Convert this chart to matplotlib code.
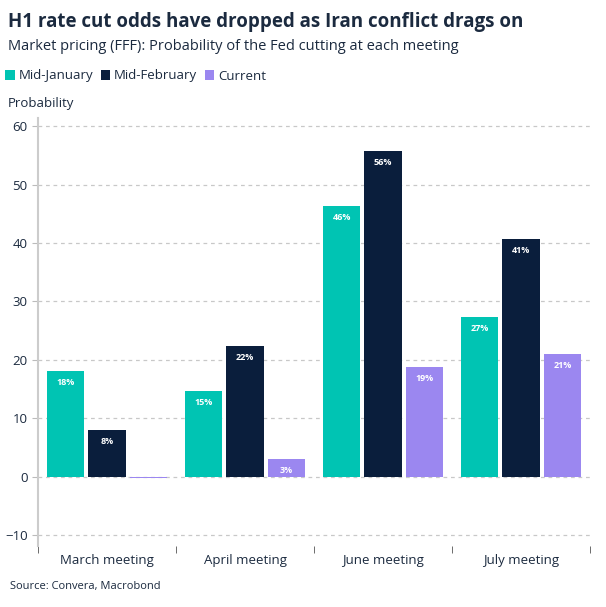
import matplotlib
matplotlib.use("Agg")
import matplotlib.pyplot as plt
import numpy as np

plt.rcParams['font.family'] = ['Open Sans', 'DejaVu Sans']

categories = ["March meeting", "April meeting", "June meeting", "July meeting"]
series_names = ["Mid-January", "Mid-February", "Current"]
mid_jan = [18.0, 14.6, 46.3, 27.3]
mid_feb = [8.0, 22.4, 55.8, 40.6]
current = [-0.3, 3.0, 18.8, 21.0]
colors = ["#00C4B3", "#0A1E3C", "#9B87F0"]
txt = "#1B2A3F"

fig = plt.figure(figsize=(6.06, 6.07), dpi=100)
ax = fig.add_axes([38/606, 61/607, 552/606, 428/607])

x = np.arange(len(categories))
w = 0.27
off = 0.3
for i, (vals, c) in enumerate(zip([mid_jan, mid_feb, current], colors)):
    xs = x + (i - 1) * off
    ax.bar(xs, vals, width=w, color=c, zorder=3, label=series_names[i])
    for xi, v in zip(xs, vals):
        if v > 1:
            ax.text(xi, v - 1.2, f"{v:.0f}%", ha="center", va="top", color="white",
                    fontsize=6.5, fontweight="bold", zorder=4)

ax.set_xlim(-0.5, 3.5)
ax.set_ylim(-11.9, 61.4)
ax.set_yticks(range(-10, 61, 10))
ax.yaxis.grid(True, linestyle=(0, (3, 3)), color="#C8C8C8", linewidth=0.9, zorder=0)
ax.set_xticks(x)
ax.set_xticklabels(categories, color=txt, fontsize=9.5)
ax.tick_params(axis="x", length=0, pad=6)
ax.set_xticks(np.arange(-0.5, 3.6, 1), minor=True)
ax.tick_params(axis="x", which="minor", length=5, color="#555555", direction="out")
ax.tick_params(axis="y", labelsize=9.5, labelcolor=txt, length=4, color="#BBBBBB")
for s in ["top", "right", "bottom"]:
    ax.spines[s].set_visible(False)
ax.spines["left"].set_color("#CCCCCC")
ax.spines["left"].set_linewidth(1.5)

fig.text(8/606, 1 - 22/607, "H1 rate cut odds have dropped as Iran conflict drags on",
         fontsize=13.5, fontweight="bold", color=txt, va="center")
fig.text(8/606, 1 - 46/607, "Market pricing (FFF): Probability of the Fed cutting at each meeting",
         fontsize=10.5, color=txt, va="center")
fig.text(8/606, 1 - 104/607, "Probability", fontsize=9.5, color=txt, va="center")
fig.text(10/606, 1 - 586/607, "Source: Convera, Macrobond", fontsize=8, color=txt, va="center")

leg = fig.legend(loc="center left", bbox_to_anchor=(0.0, 1 - 76/607), ncol=3, frameon=False,
                 fontsize=9.5, handlelength=0.7, handleheight=0.7, handletextpad=0.3,
                 columnspacing=0.6, borderaxespad=0)
for t in leg.get_texts():
    t.set_color(txt)

fig.savefig("out.png", dpi=100, facecolor="white")
